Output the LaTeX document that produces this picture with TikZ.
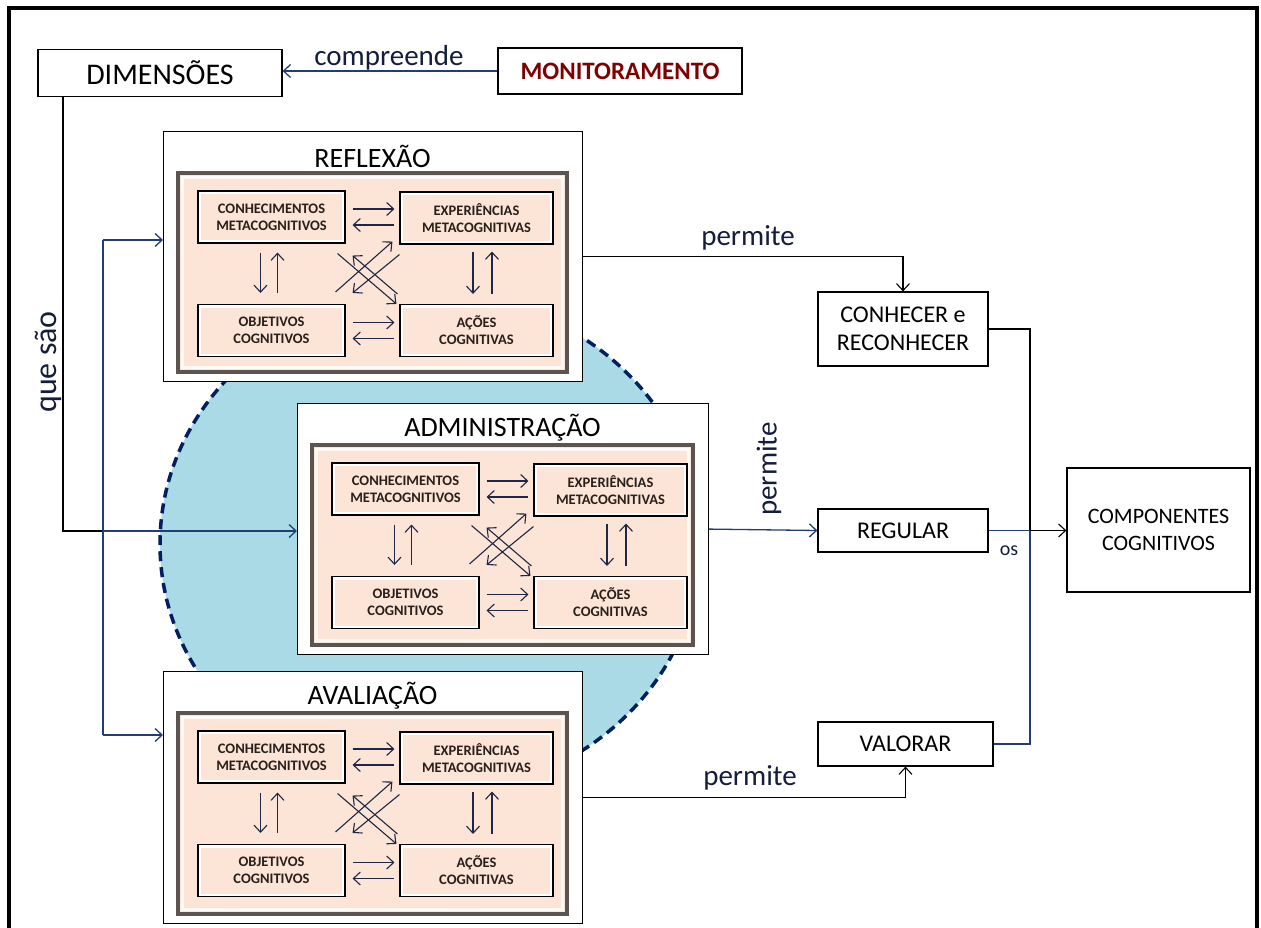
\documentclass[tikz,border=0pt]{standalone}
\usepackage{fontspec}
\setmainfont{Carlito}
\usetikzlibrary{arrows.meta,calc}
\definecolor{peach}{RGB}{252,228,214}
\definecolor{framebrown}{RGB}{92,84,78}
\definecolor{lblue}{RGB}{170,218,230}
\definecolor{navy}{RGB}{0,32,96}
\definecolor{lineblue}{RGB}{35,60,115}
\definecolor{darkred}{RGB}{128,0,0}
\definecolor{inktext}{RGB}{40,32,28}
\definecolor{inkarrow}{RGB}{30,40,70}
\definecolor{lbltext}{RGB}{20,30,60}
\tikzset{
  x=1pt, y=-1pt,
  box/.style={draw=black, line width=1.2pt, fill=white, align=center, inner sep=0pt},
  ibox/.style={draw=black, line width=1.1pt, fill=white, align=center, inner sep=0pt,
    text=inktext, font=\bfseries\fontsize{14.5}{17}\selectfont,
    minimum height=52pt,
    path picture={\fill[peach] ([shift={(3pt,3pt)}]path picture bounding box.south west)
      rectangle ([shift={(-3pt,-3pt)}]path picture bounding box.north east);}},
  iarr/.style={draw=inkarrow, line width=1.1pt, -{Straight Barb[length=7pt,width=13pt]}},
  narr/.style={draw=lineblue, line width=1.3pt, -{Straight Barb[length=7pt,width=13pt]}},
  karr/.style={draw=black, line width=1.1pt, -{Straight Barb[length=7pt,width=13pt]}},
  bline/.style={draw=lineblue, line width=1.3pt},
  kline/.style={draw=black, line width=1.1pt},
  lbl/.style={inner sep=0pt, text=lbltext, font=\fontsize{29}{32}\selectfont},
  titletext/.style={font=\fontsize{28}{30}\selectfont},
}
\newcommand\dimblock[6]{%
  \begin{scope}[shift={(#2,#3)}]
    \node[box, minimum width=#4pt, minimum height=#5pt, anchor=north west] (#1) at (0,0) {};
    \node[titletext] (#1t) at (#4/2,25) {#6};
    \draw[draw=framebrown, line width=4.5pt, fill=peach] (15,42) rectangle (#4-15,#5-9);
    \draw[white, line width=2.5pt, opacity=0.85] (19.5,46.5) rectangle (#4-19.5,#5-13.5);
    \node[ibox, minimum width=147pt] (#1c) at (108.5,86) {CONHECIMENTOS\\METACOGNITIVOS};
    \node[ibox, minimum width=153pt] (#1e) at (313.5,87) {EXPERIÊNCIAS\\METACOGNITIVAS};
    \node[ibox, minimum width=147pt] (#1o) at (108.5,199.5) {OBJETIVOS\\COGNITIVOS};
    \node[ibox, minimum width=153pt] (#1a) at (313.5,199.5) {AÇÕES\\COGNITIVAS};
    \draw[iarr] ($(#1c.east)+(7,-8)$) -- ($(#1c.east -| #1e.west)+(-5,-8)$);
    \draw[iarr] ($(#1c.east -| #1e.west)+(-5,8)$) -- ($(#1c.east)+(7,8)$);
    \draw[iarr] ($(#1o.east)+(7,-8)$) -- ($(#1o.east -| #1a.west)+(-5,-8)$);
    \draw[iarr] ($(#1o.east -| #1a.west)+(-5,8)$) -- ($(#1o.east)+(7,8)$);
    \draw[iarr] ($(#1c.south)+(-11,9)$) -- ($(#1c.south |- #1o.north)+(-11,-11)$);
    \draw[iarr] ($(#1c.south |- #1o.north)+(6,-11)$) -- ($(#1c.south)+(6,9)$);
    \draw[iarr] ($(#1e.south)+(-3.5,7)$) -- ($(#1e.south |- #1a.north)+(-3.5,-10)$);
    \draw[iarr] ($(#1e.south |- #1a.north)+(15.5,-10)$) -- ($(#1e.south)+(15.5,7)$);
    \draw[iarr] ($(#1c.south east)+(-8,10)$) -- ($(#1a.north west)+(-3,0)$);
    \draw[iarr] ($(#1a.north west)+(-2,-10)$) -- ($(#1c.south east)+(7,12)$);
    \draw[iarr] ($(#1o.north east)+(-10,-12)$) -- ($(#1e.south west)+(-7,-3)$);
    \draw[iarr] ($(#1e.south west)+(0,10)$) -- ($(#1o.north east)+(7,-11)$);
  \end{scope}}
\begin{document}
\begin{tikzpicture}
\useasboundingbox (0,0) rectangle (1261,928);
\fill[white] (0,0) rectangle (1261,928);
% outer frame
\draw[line width=3.5pt] (9,935) -- (9,8) -- (1257,8) -- (1257,935);
% background ellipse
\draw[navy, line width=3.5pt, dash pattern=on 10pt off 6pt, fill=lblue]
  (430,544) ellipse [x radius=270, y radius=250];
% top boxes
\node[box, minimum width=244pt, minimum height=47pt, font=\fontsize{30}{32}\selectfont] (dim) at (160,73) {DIMENSÕES};
\node[box, minimum width=244pt, minimum height=46pt, font=\bfseries\fontsize{25}{28}\selectfont, text=darkred] (mon) at (620,71) {MONITORAMENTO};
\draw[narr] (mon.west) -- (mon.west -| dim.east);
\node[lbl, anchor=base] at (389,66) {compreende};
% dimension blocks
\dimblock{refl}{163}{131}{419}{250}{REFLEXÃO}
\dimblock{adm}{297}{403}{411}{251}{ADMINISTRAÇÃO}
\dimblock{aval}{163}{671}{419}{252}{AVALIAÇÃO}
% left connectors
\coordinate (dj) at (63,531);
\coordinate (bj) at (103,531);
\coordinate (vt) at (103,240);
\coordinate (vb) at (103,735);
\draw[kline] (dim.south -| dj) -- (dj) -- (bj);
\draw[bline] (vt) -- (vb);
\draw[narr] (vt) -- (vt -| refl.west);
\draw[narr] (bj) -- (bj -| adm.west);
\draw[narr] (vb) -- (vb -| aval.west);
\node[lbl, rotate=90, font=\fontsize{32}{34}\selectfont] at (48,362) {que são};
% right side boxes
\node[box, minimum width=170pt, minimum height=74pt, font=\fontsize{24}{27.5}\selectfont] (con) at (903,329) {CONHECER e\\RECONHECER};
\node[box, minimum width=170pt, minimum height=43pt, font=\fontsize{24}{27}\selectfont] (reg) at (903,530.5) {REGULAR};
\node[box, minimum width=175pt, minimum height=44pt, font=\fontsize{24}{27}\selectfont] (val) at (905.5,744) {VALORAR};
\node[box, minimum width=183pt, minimum height=124pt, font=\fontsize{22}{27}\selectfont] (comp) at (1158.5,530) {COMPONENTES\\COGNITIVOS};
% right connectors
\coordinate (jn) at (1030,530.5);
\draw[karr] (refl.east) -| (con.north);
\node[lbl] at (748,238) {permite};
\draw[narr] (adm.east) -- (reg.west);
\node[lbl, rotate=90] at (769,469) {permite};
\draw[karr] (aval.east) -| (val.south);
\node[lbl] at (750,778) {permite};
\draw[kline] (con.east) -| (jn);
\draw[bline] (val.east) -| (jn);
\draw[bline] (reg.east) -- (jn);
\draw[karr] (jn) -- (jn -| comp.west);
\node[lbl, font=\fontsize{20}{22}\selectfont] at (1009,551) {os};
\end{tikzpicture}
\end{document}
